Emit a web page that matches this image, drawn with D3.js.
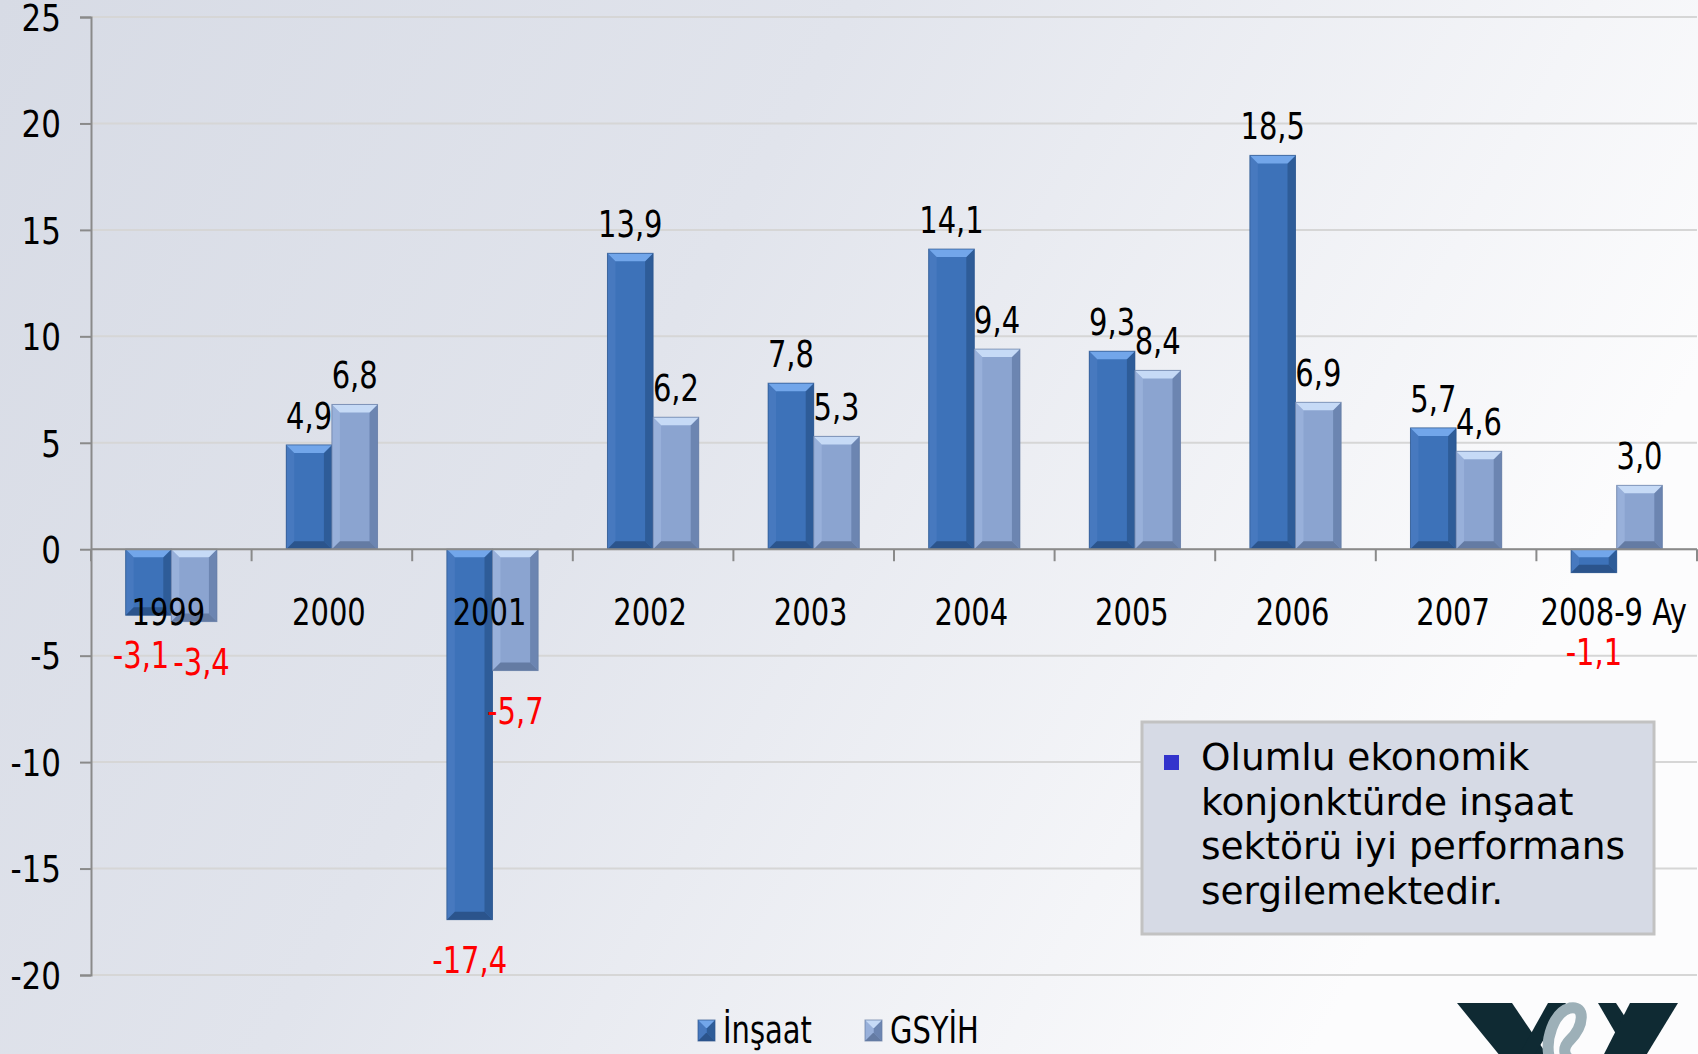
<!DOCTYPE html>
<html>
<head>
<meta charset="utf-8">
<script src="https://cdn.jsdelivr.net/npm/d3@7/dist/d3.min.js"></script>
<style>
  html, body { margin: 0; padding: 0; background: #fff; }
  svg { display: block; }
  .lbl { font-family: "DejaVu Sans Condensed", "DejaVu Sans", sans-serif; font-size: 37px; }
  .note { font-family: "DejaVu Sans", sans-serif; font-size: 37.5px; }
</style>
</head>
<body>
<svg id="chart" width="1698" height="1054"></svg>
<script>
// data
const categories = ['1999', '2000', '2001', '2002', '2003', '2004', '2005', '2006', '2007', '2008-9 Ay'];
const insaat = [-3.1, 4.9, -17.4, 13.9, 7.8, 14.1, 9.3, 18.5, 5.7, -1.1];
const gsyih = [-3.4, 6.8, -5.7, 6.2, 5.3, 9.4, 8.4, 6.9, 4.6, 3.0];
const seriesNames = ['İnşaat', 'GSYİH'];
const yTicks = [-20, -15, -10, -5, 0, 5, 10, 15, 20, 25];
const noteLines = ['Olumlu ekonomik', 'konjonktürde inşaat', 'sektörü iyi performans', 'sergilemektedir.'];

const W = 1698, H = 1054;
const margin = {top: 17, right: 1, bottom: 79, left: 91};
const squeeze = 0.87; // the labels use a narrow face

const palettes = [
  {body: '#3d72b9', top: '#72a6ea', left: '#4779bf', right: '#2e5c98', bottom: '#2b548c'},
  {body: '#8ba4d0', top: '#c6daf6', left: '#98b0da', right: '#6c85b1', bottom: '#647ba3'}
];

const svg = d3.select('#chart');
const defs = svg.append('defs');

const bg = defs.append('linearGradient').attr('id', 'bg')
    .attr('x1', 0).attr('y1', 0).attr('x2', 1).attr('y2', 0.35);
bg.append('stop').attr('offset', 0).attr('stop-color', '#d7dbe5');
bg.append('stop').attr('offset', 0.45).attr('stop-color', '#e1e4ec');
bg.append('stop').attr('offset', 1).attr('stop-color', '#fcfcfd');

svg.append('rect').attr('width', W).attr('height', H).attr('fill', 'url(#bg)');

const y = d3.scaleLinear().domain([-20, 25]).range([H - margin.bottom, margin.top]);
const x0 = d3.scaleBand().domain(categories).range([margin.left, W - margin.right]).padding(0);
const x1 = d3.scaleBand().domain(seriesNames).range([0, x0.bandwidth()])
    .paddingInner(0).paddingOuter(0.76);

const fmt = v => d3.format('.1f')(v).replace('.', ',').replace('\u2212', '-');

// move x/y into a transform so the text can be squeezed sideways
function narrow(sel, k = squeeze) {
  sel.each(function() {
    const t = d3.select(this);
    const tx = +t.attr('x') || 0, ty = +t.attr('y') || 0;
    t.attr('x', 0).attr('y', 0)
      .attr('transform', 'translate(' + tx + ',' + ty + ') scale(' + k + ',1)');
  });
}

// gridlines
svg.append('g').attr('class', 'grid')
  .selectAll('line').data(yTicks).enter().append('line')
    .attr('x1', margin.left).attr('x2', W - margin.right)
    .attr('y1', d => y(d)).attr('y2', d => y(d))
    .attr('stroke', '#d6d6d6').attr('stroke-width', 2);

// y axis
const yAxis = svg.append('g')
    .attr('transform', 'translate(' + margin.left + ',0)')
    .call(d3.axisLeft(y).tickValues(yTicks).tickSize(11).tickPadding(19).tickFormat(d => d));
yAxis.select('.domain').attr('stroke', '#8a8a8a').attr('stroke-width', 2);
yAxis.selectAll('.tick line').attr('stroke', '#8a8a8a').attr('stroke-width', 2);
yAxis.selectAll('.tick text').attr('class', 'lbl').attr('fill', '#000').attr('dy', '0.36em')
  .call(narrow, 0.93);

// bars
function drawBar(g, x, yTop, w, h, pal) {
  const b = Math.min(8, h / 2);
  const pts = a => a.map(p => p.join(',')).join(' ');
  g.append('rect').attr('x', x).attr('y', yTop).attr('width', w).attr('height', h).attr('fill', pal.body);
  g.append('polygon').attr('fill', pal.left)
    .attr('points', pts([[x, yTop], [x + b, yTop + b], [x + b, yTop + h - b], [x, yTop + h]]));
  g.append('polygon').attr('fill', pal.right)
    .attr('points', pts([[x + w, yTop], [x + w - b, yTop + b], [x + w - b, yTop + h - b], [x + w, yTop + h]]));
  g.append('polygon').attr('fill', pal.bottom)
    .attr('points', pts([[x, yTop + h], [x + w, yTop + h], [x + w - b, yTop + h - b], [x + b, yTop + h - b]]));
  g.append('polygon').attr('fill', pal.top)
    .attr('points', pts([[x, yTop], [x + w, yTop], [x + w - b, yTop + b], [x + b, yTop + b]]));
  g.append('rect').attr('x', x).attr('y', yTop).attr('width', w).attr('height', h)
    .attr('fill', 'none').attr('stroke', pal.bottom).attr('stroke-width', 1).attr('stroke-opacity', 0.7);
}

const series = [insaat, gsyih];
const barsG = svg.append('g').attr('class', 'bars');
const labelsG = svg.append('g').attr('class', 'values');
const negLabels = [];

categories.forEach((c, i) => {
  series.forEach((vals, s) => {
    const v = vals[i];
    const bx = x0(c) + x1(seriesNames[s]);
    const bw = x1.bandwidth();
    const top = Math.min(y(v), y(0));
    const h = Math.abs(y(v) - y(0));
    drawBar(barsG.append('g'), bx, top, bw, h, palettes[s]);

    const cx = bx + bw / 2;
    if (v >= 0) {
      labelsG.append('text').attr('class', 'lbl')
        .attr('x', cx).attr('y', y(v) - 16)
        .attr('text-anchor', 'middle').attr('fill', '#000').text(fmt(v));
    } else {
      const t = labelsG.append('text').attr('class', 'lbl')
        .attr('x', cx).attr('y', Math.max(y(v) + 53, y(0) + 116))
        .attr('text-anchor', 'middle').attr('fill', '#ff0000').text(fmt(v));
      negLabels.push(t);
    }
  });
});

// push apart negative labels that overlap
for (let k = 1; k < negLabels.length; k++) {
  const a = negLabels[k - 1].node().getBBox(), b = negLabels[k].node().getBBox();
  const ax = +negLabels[k - 1].attr('x'), bx = +negLabels[k].attr('x');
  const aw = a.width * squeeze, bw = b.width * squeeze;
  const sameRow = Math.abs(+negLabels[k - 1].attr('y') - +negLabels[k].attr('y')) < a.height;
  const overlap = (ax + aw / 2 + 4) - (bx - bw / 2);
  if (sameRow && overlap > 0 && bx > ax) {
    negLabels[k - 1].attr('x', ax - overlap / 2);
    negLabels[k].attr('x', bx + overlap / 2);
  }
}
labelsG.selectAll('text').call(narrow);

// category axis
const xAxis = svg.append('g').attr('class', 'xaxis');
xAxis.append('line')
  .attr('x1', margin.left).attr('x2', W - margin.right)
  .attr('y1', y(0)).attr('y2', y(0))
  .attr('stroke', '#8a8a8a').attr('stroke-width', 2);
xAxis.selectAll('.tk').data(d3.range(categories.length + 1)).enter().append('line')
  .attr('class', 'tk')
  .attr('x1', i => margin.left + i * x0.step()).attr('x2', i => margin.left + i * x0.step())
  .attr('y1', y(0)).attr('y2', y(0) + 12)
  .attr('stroke', '#8a8a8a').attr('stroke-width', 2);
xAxis.selectAll('.cat').data(categories).enter().append('text')
  .attr('class', 'lbl cat')
  .attr('x', d => x0(d) + x0.bandwidth() / 2 - 3)
  .attr('y', y(0) + 76)
  .attr('text-anchor', 'middle').attr('fill', '#000')
  .text(d => d)
  .call(narrow);

// legend
const legend = svg.append('g').attr('class', 'legend');
const legendX = [698, 865];
seriesNames.forEach((n, s) => {
  drawBar(legend.append('g'), legendX[s], 1020, 17, 21, palettes[s]);
  legend.append('text').attr('class', 'lbl')
    .attr('x', legendX[s] + 25).attr('y', 1043).attr('fill', '#000').text(n)
    .call(narrow);
});

// note box
const note = svg.append('g').attr('class', 'note-box');
note.append('rect').attr('x', 1142).attr('y', 722).attr('width', 512).attr('height', 212)
  .attr('fill', '#d6dae5').attr('stroke', '#c2c2c2').attr('stroke-width', 3);
note.append('rect').attr('x', 1164).attr('y', 755).attr('width', 15).attr('height', 15).attr('fill', '#3333cc');
note.selectAll('.nl').data(noteLines).enter().append('text')
  .attr('class', 'note nl')
  .attr('x', 1201).attr('y', (d, i) => 770 + i * 44.5)
  .attr('fill', '#000').text(d => d);

// logo, bottom right, cut by the page edge
const logo = svg.append('g').attr('class', 'logo');
logo.append('path').attr('fill', '#0f2a33')
  .attr('d', 'M1457,1003 L1512,1003 L1552,1062 L1505,1062 Z');
logo.append('path').attr('fill', '#0f2a33')
  .attr('d', 'M1548,1003 L1566,1003 L1530,1062 L1515,1062 Z');
logo.append('path').attr('fill', '#0f2a33')
  .attr('d', 'M1598,1003 L1616,1003 L1640,1040 L1630,1058 Z');
logo.append('path').attr('fill', '#0f2a33')
  .attr('d', 'M1630,1003 L1678,1003 L1642,1062 L1600,1062 Z');
logo.append('path').attr('fill', 'none').attr('stroke', '#9db0b8').attr('stroke-width', 11)
  .attr('d', 'M1550,1060 C1544,1040 1554,1012 1570,1008 C1586,1005 1584,1026 1570,1040 C1562,1048 1563,1057 1574,1062');
</script>
</body>
</html>
